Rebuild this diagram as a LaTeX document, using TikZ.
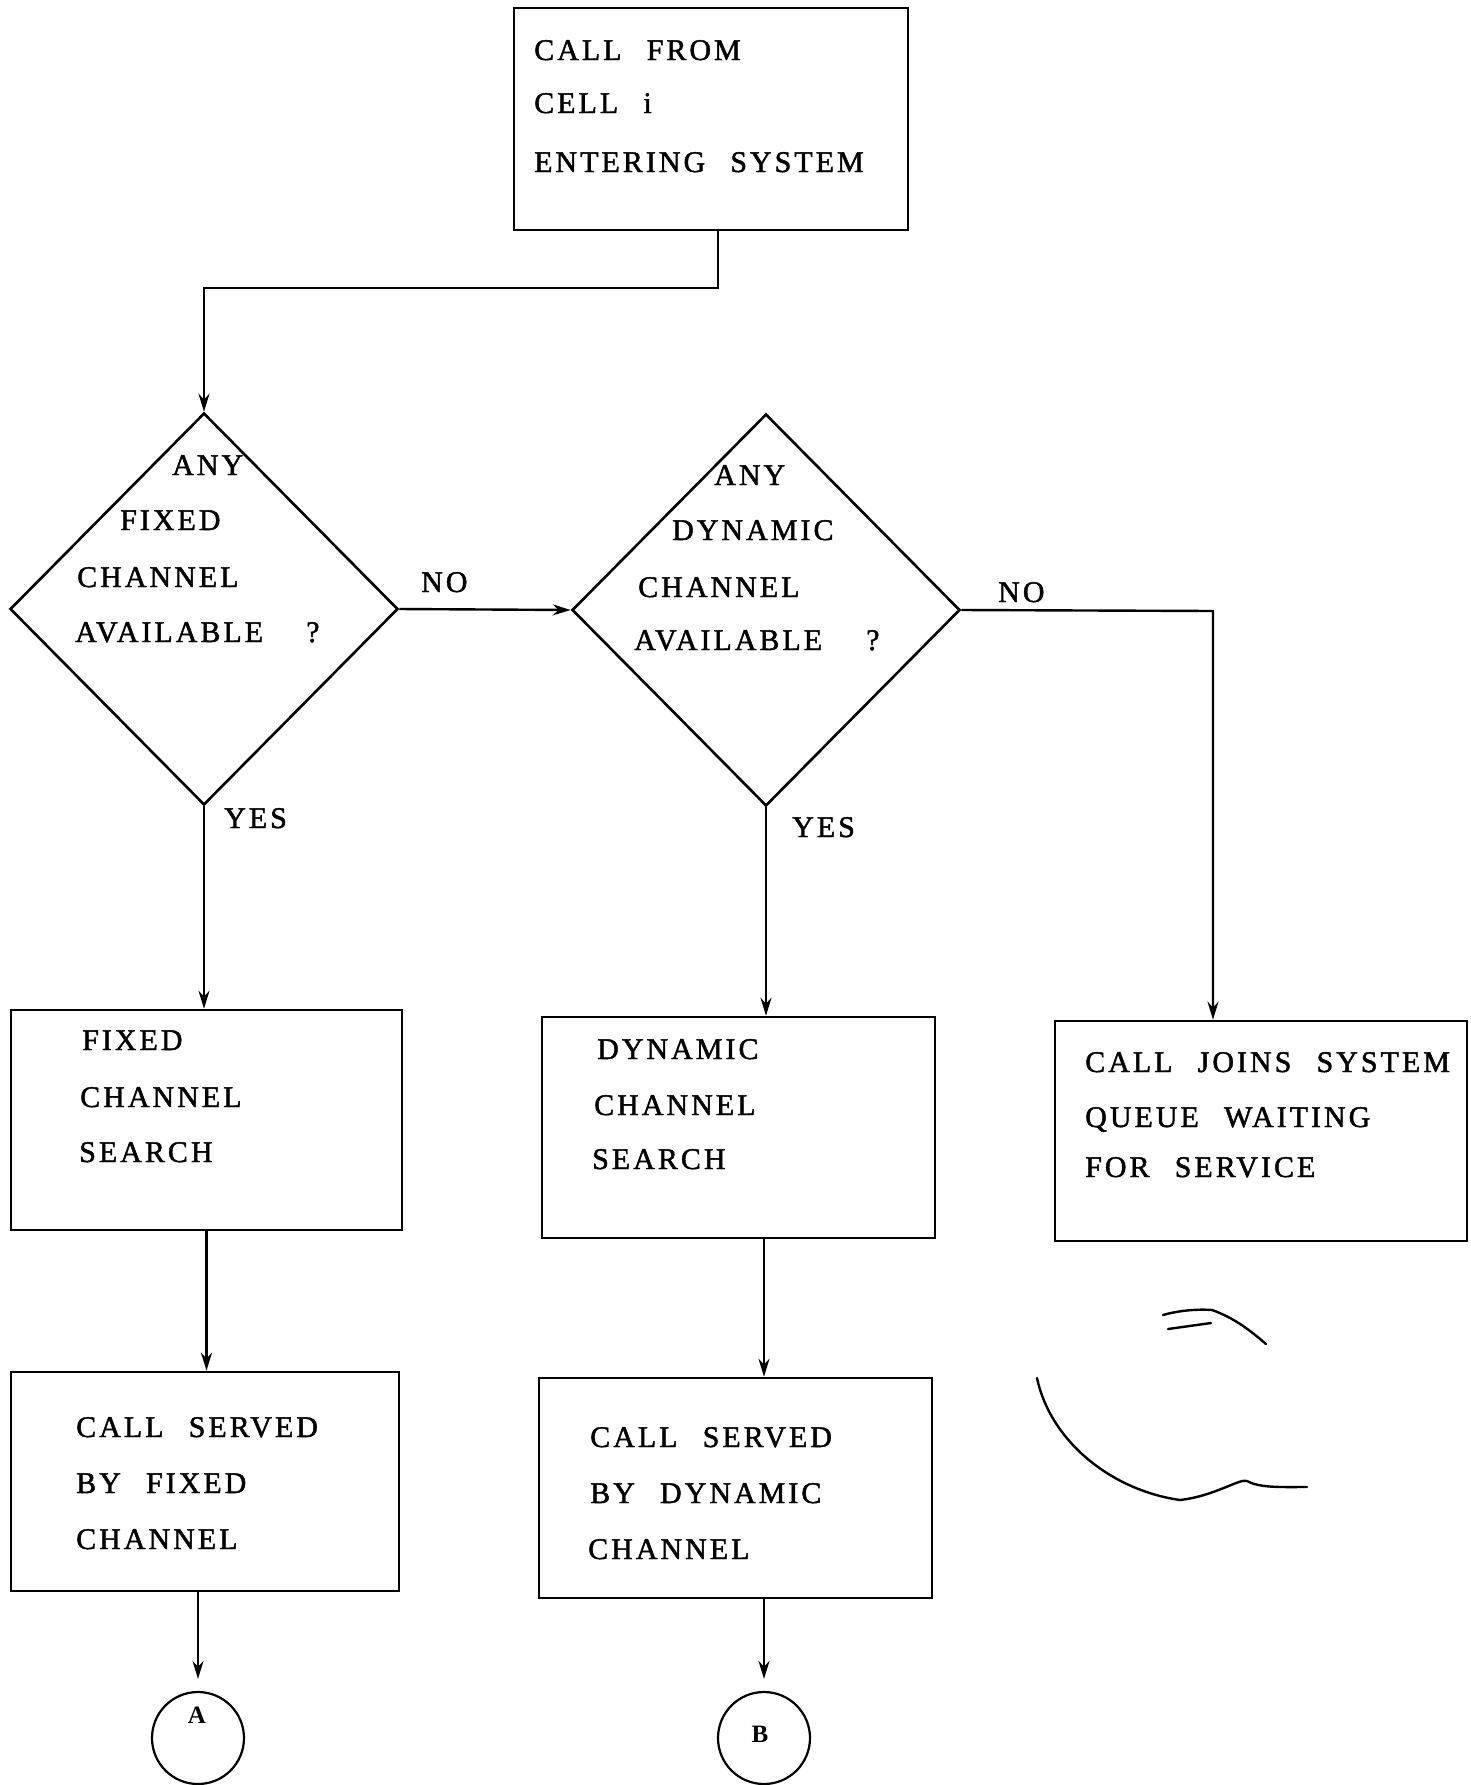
\documentclass[tikz,border=0pt]{standalone}
\usepackage{fontspec}
\setmainfont{Liberation Serif}
\newfontfamily\tw[LetterSpace=10,WordSpace=2.4,FakeBold=1.5]{Liberation Serif}
\usetikzlibrary{shapes.geometric,arrows.meta}
\begin{document}
\begin{tikzpicture}[x=1pt,y=-1pt,
  box/.style={draw,line width=2.6pt,inner sep=0pt,rectangle},
  dia/.style={draw,line width=2.6pt,diamond,inner sep=0pt,minimum width=388pt,minimum height=392pt},
  circ/.style={draw,line width=2.2pt,circle,inner sep=0pt,minimum size=92pt},
  txt/.style={anchor=base west,inner sep=0pt,font=\tw\fontsize{30}{32}\selectfont},
  lbl/.style={anchor=base,inner sep=0pt,font=\bfseries\fontsize{25}{27}\selectfont},
  arr/.style={line width=2.4pt,-{Stealth[length=18pt,width=11pt]}},
  scrib/.style={line width=2.4pt,line cap=round,line join=round}]
\useasboundingbox (0,0) rectangle (1470,1785);
\fill[white] (0,0) rectangle (1470,1785);

% boxes
\node[box,minimum width=394pt,minimum height=222pt] (top) at (711,119) {};
\node[box,minimum width=391pt,minimum height=220pt] (b1) at (206.5,1120) {};
\node[box,minimum width=393pt,minimum height=221pt] (b2) at (738.5,1127.5) {};
\node[box,minimum width=412pt,minimum height=220pt] (b3) at (1261,1131) {};
\node[box,minimum width=388pt,minimum height=219pt] (b4) at (205,1481.5) {};
\node[box,minimum width=393pt,minimum height=220pt] (b5) at (735.5,1488) {};
% diamonds
\node[dia] (d1) at (204,609) {};
\node[dia] (d2) at (766,610) {};
% connector circles
\node[circ] (cA) at (198,1738) {};
\node[circ] (cB) at (764,1738) {};
\node[lbl] (lA) at (197,1723) {A};
\node[lbl] (lB) at (760,1742) {B};

% texts
\node[txt] (ta) at (534,60) {CALL FROM};
\node[txt] (tb) at (534,113) {CELL i};
\node[txt] (tc) at (534,172) {ENTERING SYSTEM};

\node[txt] (d1a) at (172,475) {ANY};
\node[txt] (d1b) at (120,530) {FIXED};
\node[txt] (d1c) at (77,587) {CHANNEL};
\node[txt] (d1d) at (75,642) {AVAILABLE};
\node[txt] (d1q) at (306,642) {?};

\node[txt] (d2a) at (714,485) {ANY};
\node[txt] (d2b) at (672,540) {DYNAMIC};
\node[txt] (d2c) at (638,597) {CHANNEL};
\node[txt] (d2d) at (634,650) {AVAILABLE};
\node[txt] (d2q) at (866,650) {?};

\node[txt] (b1a) at (82,1050) {FIXED};
\node[txt] (b1b) at (80,1107) {CHANNEL};
\node[txt] (b1c) at (79,1162) {SEARCH};

\node[txt] (b2a) at (597,1059) {DYNAMIC};
\node[txt] (b2b) at (594,1115) {CHANNEL};
\node[txt] (b2c) at (592,1169) {SEARCH};

\node[txt] (b3a) at (1085,1072) {CALL JOINS SYSTEM};
\node[txt] (b3b) at (1085,1127) {QUEUE WAITING};
\node[txt] (b3c) at (1085,1177) {FOR SERVICE};

\node[txt] (b4a) at (76,1437) {CALL SERVED};
\node[txt] (b4b) at (76,1493) {BY FIXED};
\node[txt] (b4c) at (76,1549) {CHANNEL};

\node[txt] (b5a) at (590,1447) {CALL SERVED};
\node[txt] (b5b) at (590,1503) {BY DYNAMIC};
\node[txt] (b5c) at (588,1559) {CHANNEL};

\node[txt] (no1) at (421,592) {NO};
\node[txt] (no2) at (998,602) {NO};
\node[txt] (yes1) at (224,828) {YES};
\node[txt] (yes2) at (792,837) {YES};

% connectors
\coordinate (j1) at (718,288);
\draw[arr] (top.south -| j1) -- (j1) -| (d1.north);
\draw[arr] (d1.east) -- (d2.west);
\coordinate (j2) at (1213,611);
\draw[arr] (d2.east) -- (j2) -- (j2 |- b3.north);
\draw[arr] (d1.south) -- (d1.south |- b1.north);
\draw[arr] (d2.south) -- (d2.south |- b2.north);
\draw[arr] (b1.south) -- (b1.south |- b4.north);
\draw[arr] (b2.south -| cB) -- (b5.north -| cB);
\draw[arr,shorten >=12pt] (b4.south -| cA) -- (cA.north);
\draw[arr,shorten >=12pt] (b5.south -| cB) -- (cB.north);

% hand-drawn marks
\draw[scrib] (1037,1378) .. controls (1050,1440) and (1110,1490) .. (1180,1500)
  .. controls (1215,1496) and (1240,1478) .. (1247,1481)
  .. controls (1260,1488) and (1280,1487) .. (1307,1487);
\draw[scrib] (1163,1315) .. controls (1180,1310) and (1200,1309) .. (1212,1310)
  .. controls (1235,1318) and (1252,1332) .. (1266,1344);
\draw[scrib] (1168,1329) -- (1211,1323);
\end{tikzpicture}
\end{document}
